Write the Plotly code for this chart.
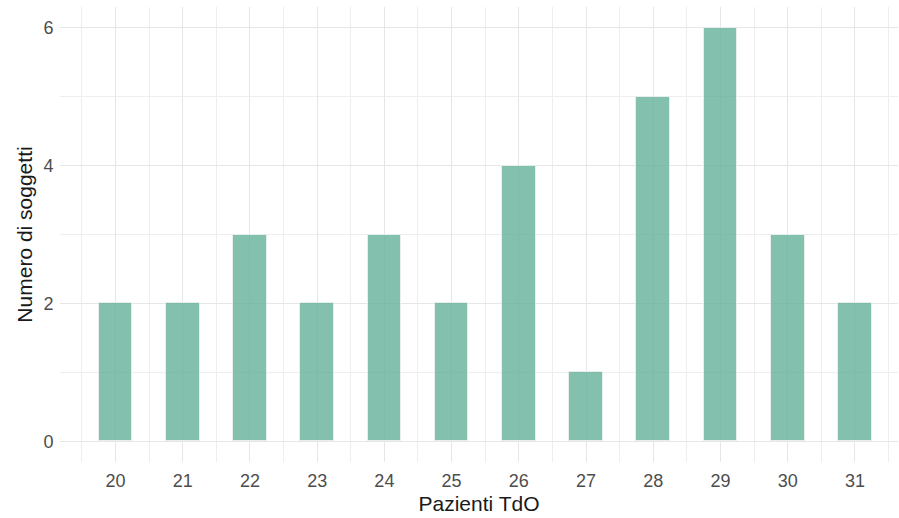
import plotly.graph_objects as go

eta = [20, 21, 22, 23, 24, 25, 26, 27, 28, 29, 30, 31]
soggetti = [2, 2, 3, 2, 3, 2, 4, 1, 5, 6, 3, 2]
x_labels = [str(v) for v in eta]
y_ticks = [0, 2, 4, 6]

fig = go.Figure(go.Bar(
    x=eta, y=soggetti, width=0.5,
    marker=dict(color="rgba(96,174,150,0.78)",
                line=dict(color="rgba(235,240,238,0.9)", width=1)),
))

font_family = "Liberation Sans, Arial, sans-serif"
grid = "#e6e6e6"
fig.update_layout(
    width=899, height=518,
    margin=dict(l=60, r=1, t=7, b=56),
    plot_bgcolor="white", paper_bgcolor="white",
    showlegend=False,
    font=dict(family=font_family),
    bargap=0,
)
fig.update_xaxes(
    range=[19.175, 31.64], tickmode="array", tickvals=eta, ticktext=x_labels,
    showgrid=True, gridcolor=grid, gridwidth=1,
    minor=dict(tickmode="array", tickvals=[v - 0.5 for v in eta] + [31.5],
               showgrid=True, gridcolor="#eeeeee", gridwidth=1),
    zeroline=False, showline=False,
    ticks="outside", ticklen=2, tickcolor="rgba(0,0,0,0)",
    tickfont=dict(size=18, color="#4d4d4d"),
    automargin=False,
    title=dict(text="Pazienti TdO", font=dict(size=21, color="#1a1a1a"), standoff=6),
)
fig.update_yaxes(
    range=[-0.3, 6.3], tickmode="array", tickvals=y_ticks,
    showgrid=True, gridcolor=grid, gridwidth=1,
    minor=dict(tickmode="array", tickvals=[1, 3, 5], showgrid=True,
               gridcolor="#eeeeee", gridwidth=1),
    zeroline=False, showline=False,
    ticks="outside", ticklen=2, tickcolor="rgba(0,0,0,0)",
    tickfont=dict(size=18, color="#4d4d4d"),
    automargin=False,
    title=dict(text="Numero di soggetti", font=dict(size=21, color="#1a1a1a"), standoff=5),
)
fig.write_html("out.html", config={"displayModeBar": False},
               post_script="document.body.style.margin='0';document.body.style.overflow='hidden';")
